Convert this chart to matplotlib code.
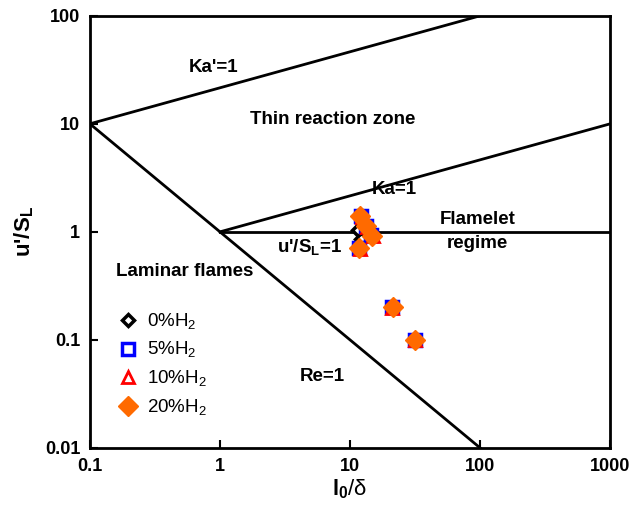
import numpy as np
import matplotlib.pyplot as plt

plt.rcParams['font.family'] = ['Liberation Sans', 'DejaVu Sans']
plt.rcParams['mathtext.fontset'] = 'custom'
plt.rcParams['mathtext.rm'] = 'Liberation Sans'
plt.rcParams['mathtext.bf'] = 'Liberation Sans:bold'

# regime boundary lines (l0/delta, u'/SL)
ka100_x = [0.1, 100]
ka100_y = [10, 100]
ka1_x = [1, 1000]
ka1_y = [1, 10]
re1_x = [0.1, 100]
re1_y = [10, 0.01]
u1_x = [1, 1000]
u1_y = [1, 1]

# measured points per mixture
x_0 = [11.6, 12.2, 11.8, 21.0, 31.5]
y_0 = [1.05, 0.85, 0.70, 0.20, 0.10]
x_5 = [12.2, 13.2, 14.6, 11.8, 21.0, 31.5]
y_5 = [1.40, 1.14, 0.93, 0.71, 0.20, 0.10]
x_10 = [12.3, 13.4, 14.9, 11.9, 21.2, 31.8]
y_10 = [1.38, 1.12, 0.91, 0.70, 0.198, 0.099]
x_20 = [12.0, 13.3, 14.8, 11.7, 21.3, 31.6]
y_20 = [1.41, 1.14, 0.92, 0.71, 0.20, 0.10]

fig = plt.figure(figsize=(6.33, 5.09), dpi=100)
ax = fig.add_axes([0.142, 0.12, 0.822, 0.849])

for xs, ys in [(ka100_x, ka100_y), (ka1_x, ka1_y), (re1_x, re1_y), (u1_x, u1_y)]:
    ax.plot(xs, ys, color='black', linewidth=2)

ax.plot(x_0, y_0, linestyle='none', marker='D', markersize=6.5, markerfacecolor='white',
        markeredgecolor='black', markeredgewidth=2.5, label='0%H$_2$')
ax.plot(x_5, y_5, linestyle='none', marker='s', markersize=8, markerfacecolor='white',
        markeredgecolor='#0000ff', markeredgewidth=2.5, label='5%H$_2$')
ax.plot(x_10, y_10, linestyle='none', marker='^', markersize=8, markerfacecolor='white',
        markeredgecolor='#ff0000', markeredgewidth=2, label='10%H$_2$')
ax.plot(x_20, y_20, linestyle='none', marker='D', markersize=10.5, markerfacecolor='#ff6a00',
        markeredgecolor='#ff6a00', markeredgewidth=1, label='20%H$_2$')

ax.set_xscale('log')
ax.set_yscale('log')
ax.set_xlim(0.1, 1000)
ax.set_ylim(0.01, 100)
ax.set_xticks([0.1, 1, 10, 100, 1000])
ax.set_xticklabels(['0.1', '1', '10', '100', '1000'])
ax.set_yticks([0.01, 0.1, 1, 10, 100])
ax.set_yticklabels(['0.01', '0.1', '1', '10', '100'])
ax.minorticks_off()
ax.tick_params(direction='in', length=6, width=1.5, labelsize=13, pad=7)
for lab in ax.get_xticklabels() + ax.get_yticklabels():
    lab.set_fontweight('bold')
for s in ax.spines.values():
    s.set_linewidth(2)

ax.set_xlabel(r'$\mathbf{l_0}$/δ', fontsize=16, labelpad=2)
ax.set_ylabel(r"u'/S$_\mathbf{L}$", fontsize=16, fontweight='bold', labelpad=6)

bold = dict(fontsize=13.5, fontweight='bold', ha='center', va='center')
ax.text(0.9, 33, "Ka'=1", **bold)
ax.text(7.3, 10.9, 'Thin reaction zone', **bold)
ax.text(22, 2.45, 'Ka=1', **bold)
ax.text(95, 1.0, 'Flamelet\nregime', fontsize=13.5, fontweight='bold', ha='center',
        va='center', linespacing=1.55)
ax.text(4.9, 0.71, r"u'/S$_\mathbf{L}$=1", **bold)
ax.text(0.54, 0.43, 'Laminar flames', **bold)
ax.text(6.1, 0.046, 'Re=1', **bold)

ax.legend(loc='upper left', bbox_to_anchor=(0.02, 0.355), frameon=False, fontsize=13.5,
          handletextpad=0.4, labelspacing=0.45, handlelength=1.2)

fig.savefig('out.png', dpi=100)
